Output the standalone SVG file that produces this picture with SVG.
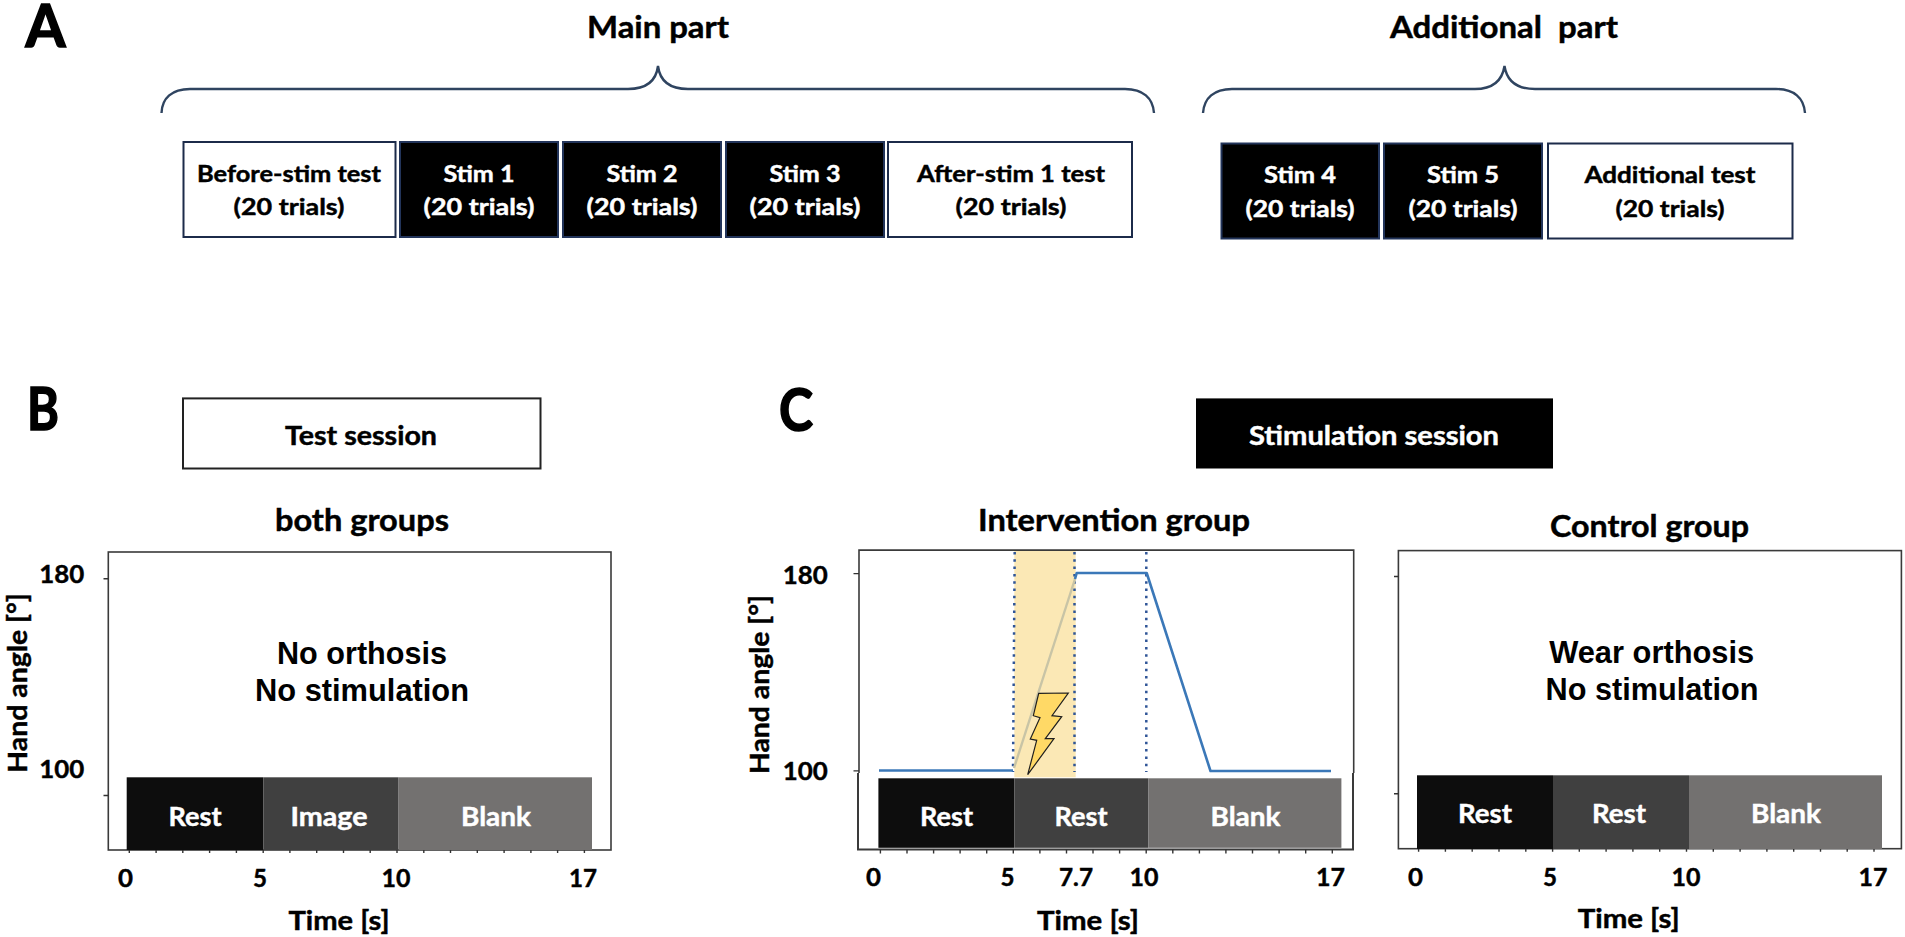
<svg xmlns="http://www.w3.org/2000/svg" width="1905" height="937" viewBox="0 0 1905 937">
<style>
text{font-family:Lato,"Open Sans","Liberation Sans",sans-serif;font-weight:700;fill:#000;stroke:#000;stroke-width:.45;text-anchor:middle}
.panel{font-size:60px;stroke-width:1.6}
.head{font-size:30px}
.box{font-size:23px}
.w{fill:#fff;stroke:#fff}
.sess{font-size:26.5px}
.bar{font-size:27px}
.num{font-size:25.5px}
.ax{font-size:27.5px}
.note{font-family:"Liberation Sans",Arial,sans-serif;font-size:30.5px;stroke:none}
.lt{fill:#fff;stroke:#1c2b4a;stroke-width:2}
.dk{fill:#000;stroke:#22345a;stroke-width:2}
.brace{fill:none;stroke:#2f4460;stroke-width:2.4}
.frame{fill:none;stroke:#3a3a3a;stroke-width:1.6}
.tick{fill:none;stroke:#333;stroke-width:1.4}
.b1{fill:#0d0d0d}.b2{fill:#404040}.b3{fill:#737170}
.dots{fill:none;stroke:#2f5597;stroke-width:2.5;stroke-dasharray:2.5 4.8}
.trace{fill:none;stroke:#3b78b8;stroke-width:2.6;stroke-linejoin:round}
</style>
<rect width="1905" height="937" fill="#fff"/>

<g id="connectors">
<path class="brace" d="M161.5 113C162 98 172 89 190 89H628C645 89 656 82 658 66C660 82 671 89 688 89H1125C1143 89 1153 98 1154 113"/>
<path class="brace" d="M1203 113C1204 98 1214 89 1232 89H1475C1492 89 1502 82 1504.500 66C1507 82 1518 89 1535 89H1776C1794 89 1804 98 1805 113"/>
</g>

<g id="panel-a">
<text class="panel" x="45.500" y="47" textLength="40" lengthAdjust="spacingAndGlyphs">A</text>
<text class="head" x="658" y="38" textLength="142" lengthAdjust="spacingAndGlyphs">Main part</text>
<text class="head" x="1504" y="38" textLength="228" lengthAdjust="spacingAndGlyphs" xml:space="preserve">Additional  part</text>
</g>

<g id="before-stim">
<rect class="lt" x="183.500" y="142" width="212" height="95"/>
<text class="box" x="289" y="182" textLength="184" lengthAdjust="spacingAndGlyphs">Before-stim test</text>
<text class="box" x="289" y="215" textLength="111" lengthAdjust="spacingAndGlyphs">(20 trials)</text>
</g>
<g id="stim-1">
<rect class="dk" x="400" y="142" width="158" height="95"/>
<text class="box w" x="479" y="182" textLength="71" lengthAdjust="spacingAndGlyphs">Stim 1</text>
<text class="box w" x="479" y="215" textLength="111" lengthAdjust="spacingAndGlyphs">(20 trials)</text>
</g>
<g id="stim-2">
<rect class="dk" x="563" y="142" width="158" height="95"/>
<text class="box w" x="642" y="182" textLength="71" lengthAdjust="spacingAndGlyphs">Stim 2</text>
<text class="box w" x="642" y="215" textLength="111" lengthAdjust="spacingAndGlyphs">(20 trials)</text>
</g>
<g id="stim-3">
<rect class="dk" x="726" y="142" width="158" height="95"/>
<text class="box w" x="805" y="182" textLength="71" lengthAdjust="spacingAndGlyphs">Stim 3</text>
<text class="box w" x="805" y="215" textLength="111" lengthAdjust="spacingAndGlyphs">(20 trials)</text>
</g>
<g id="after-stim">
<rect class="lt" x="888" y="142" width="244" height="95"/>
<text class="box" x="1011" y="182" textLength="188" lengthAdjust="spacingAndGlyphs">After-stim 1 test</text>
<text class="box" x="1011" y="215" textLength="111" lengthAdjust="spacingAndGlyphs">(20 trials)</text>
</g>
<g id="stim-4">
<rect class="dk" x="1221.500" y="143.500" width="157.500" height="95"/>
<text class="box w" x="1300" y="183" textLength="72" lengthAdjust="spacingAndGlyphs">Stim 4</text>
<text class="box w" x="1300" y="217" textLength="109" lengthAdjust="spacingAndGlyphs">(20 trials)</text>
</g>
<g id="stim-5">
<rect class="dk" x="1384" y="143.500" width="158" height="95"/>
<text class="box w" x="1463" y="183" textLength="72" lengthAdjust="spacingAndGlyphs">Stim 5</text>
<text class="box w" x="1463" y="217" textLength="109" lengthAdjust="spacingAndGlyphs">(20 trials)</text>
</g>
<g id="additional-test">
<rect class="lt" x="1548" y="143.500" width="244.500" height="95"/>
<text class="box" x="1670" y="183" textLength="171" lengthAdjust="spacingAndGlyphs">Additional test</text>
<text class="box" x="1670" y="217" textLength="109" lengthAdjust="spacingAndGlyphs">(20 trials)</text>
</g>

<g id="panel-b">
<text class="panel" x="43" y="430" textLength="32" lengthAdjust="spacingAndGlyphs">B</text>
</g>
<g id="test-session">
<rect class="lt" x="183" y="398.400" width="357.500" height="70.100" style="stroke:#222"/>
<text class="sess" x="361" y="444.700" textLength="152" lengthAdjust="spacingAndGlyphs">Test session</text>
</g>
<g id="plot-b">
<text class="head" x="362" y="531.200" textLength="174" lengthAdjust="spacingAndGlyphs">both groups</text>
<rect class="frame" x="108.300" y="552" width="502.700" height="298"/>
<path class="tick" d="M103.500 578.700H108.300M103.500 795.500H108.300M129.300 850v3M156.100 850v3M182.800 850v3M209.600 850v3M236.400 850v3M263.200 850v3M289.900 850v3M316.700 850v3M343.500 850v3M370.200 850v3M397 850v3M423.800 850v3M450.500 850v3M477.300 850v3M504.100 850v3M530.900 850v3M557.600 850v3M584.400 850v3"/>
<text class="num" x="61.700" y="582.700" textLength="45" lengthAdjust="spacingAndGlyphs">180</text>
<text class="num" x="61.700" y="778.300" textLength="45" lengthAdjust="spacingAndGlyphs">100</text>
<text class="ax" transform="translate(27 683) rotate(-90)" textLength="179.500" lengthAdjust="spacingAndGlyphs">Hand angle [°]</text>
<text class="note" x="362" y="663.500" textLength="170" lengthAdjust="spacingAndGlyphs">No orthosis</text>
<text class="note" x="362" y="701.300" textLength="214" lengthAdjust="spacingAndGlyphs">No stimulation</text>
<rect class="b1" x="126.700" y="777.300" width="136.600" height="72.700"/>
<rect class="b2" x="263.300" y="777.300" width="135.300" height="72.700"/>
<rect class="b3" x="398.600" y="777.300" width="193.400" height="72.700"/>
<text class="bar w" x="195" y="825.700" textLength="53" lengthAdjust="spacingAndGlyphs">Rest</text>
<text class="bar w" x="329" y="825.700" textLength="77" lengthAdjust="spacingAndGlyphs">Image</text>
<text class="bar w" x="496" y="825.700" textLength="70" lengthAdjust="spacingAndGlyphs">Blank</text>
<text class="num" x="125.500" y="886.700" textLength="15" lengthAdjust="spacingAndGlyphs">0</text>
<text class="num" x="260" y="886.700" textLength="14" lengthAdjust="spacingAndGlyphs">5</text>
<text class="num" x="396" y="886.700" textLength="29" lengthAdjust="spacingAndGlyphs">10</text>
<text class="num" x="583" y="886.700" textLength="28" lengthAdjust="spacingAndGlyphs">17</text>
<text class="ax" x="339" y="930" textLength="101" lengthAdjust="spacingAndGlyphs">Time [s]</text>
</g>

<g id="panel-c">
<text class="panel" x="796" y="431" textLength="34" lengthAdjust="spacingAndGlyphs">C</text>
</g>
<g id="stimulation-session">
<rect x="1196" y="398.400" width="357" height="70.100" fill="#000"/>
<text class="sess w" x="1374" y="444.700" textLength="250" lengthAdjust="spacingAndGlyphs">Stimulation session</text>
</g>
<g id="plot-intervention">
<text class="head" x="1114" y="531.200" textLength="272" lengthAdjust="spacingAndGlyphs">Intervention group</text>
<rect x="1014.300" y="550" width="61.400" height="227.300" fill="#fbe8b5"/>
<path class="frame" d="M859 773V550.100H1353.700V773"/>
<path class="frame" d="M858 773V849.600H1353V773" style="stroke-width:2"/>
<path class="tick" d="M853.500 573.600H859M853.500 770.900H859M880.400 849.600v4M907 849.600v4M933.600 849.600v4M960.100 849.600v4M986.700 849.600v4M1013.300 849.600v4M1039.900 849.600v4M1066.500 849.600v4M1093 849.600v4M1119.600 849.600v4M1146.200 849.600v4M1172.800 849.600v4M1199.400 849.600v4M1225.900 849.600v4M1252.500 849.600v4M1279.100 849.600v4M1305.700 849.600v4M1332.300 849.600v4"/>
<path class="dots" d="M1014.700 552L1013 772M1074.500 552V772M1146.300 552V772"/>
<path class="trace" d="M879 770.500H1013"/>
<path d="M1014 768L1075 579" fill="none" stroke="#c8c4a6" stroke-width="2.400"/>
<path class="trace" d="M1075 579L1076.700 573H1146.700L1210.500 771H1331"/>
<polygon id="bolt" points="1038.700,693.300 1068.300,693 1052,715.700 1061.700,716.700 1045.300,738.700 1054,738.700 1027.700,774.700 1036.700,740.300 1030.300,739 1040,717.700 1033.300,715.700" fill="#ffd966" stroke="#1f1f1f" stroke-width="1.200"/>
<text class="num" x="805.200" y="583.500" textLength="45" lengthAdjust="spacingAndGlyphs">180</text>
<text class="num" x="805.200" y="780" textLength="45" lengthAdjust="spacingAndGlyphs">100</text>
<text class="ax" transform="translate(769 684.600) rotate(-90)" textLength="179" lengthAdjust="spacingAndGlyphs">Hand angle [°]</text>
<rect class="b1" x="878.400" y="778.300" width="136" height="69.500"/>
<rect class="b2" x="1014.400" y="778.300" width="134.100" height="69.500"/>
<rect class="b3" x="1148.500" y="778.300" width="192.900" height="69.500"/>
<text class="bar w" x="946.500" y="825.700" textLength="53" lengthAdjust="spacingAndGlyphs">Rest</text>
<text class="bar w" x="1081" y="825.700" textLength="53" lengthAdjust="spacingAndGlyphs">Rest</text>
<text class="bar w" x="1245.500" y="825.700" textLength="70" lengthAdjust="spacingAndGlyphs">Blank</text>
<text class="num" x="873.500" y="885.700" textLength="15" lengthAdjust="spacingAndGlyphs">0</text>
<text class="num" x="1007.500" y="885.700" textLength="14" lengthAdjust="spacingAndGlyphs">5</text>
<text class="num" x="1076" y="885.700" textLength="34" lengthAdjust="spacingAndGlyphs">7.7</text>
<text class="num" x="1144" y="885.700" textLength="29" lengthAdjust="spacingAndGlyphs">10</text>
<text class="num" x="1330.500" y="885.700" textLength="29" lengthAdjust="spacingAndGlyphs">17</text>
<text class="ax" x="1088" y="930" textLength="102" lengthAdjust="spacingAndGlyphs">Time [s]</text>
</g>

<g id="plot-control">
<text class="head" x="1649.500" y="537.200" textLength="199" lengthAdjust="spacingAndGlyphs">Control group</text>
<rect class="frame" x="1398.400" y="550.600" width="503" height="298.100"/>
<path class="tick" d="M1394 576.500H1398.400M1394 793.800H1398.400M1418.600 848.700v3M1445.400 848.700v3M1472.200 848.700v3M1499 848.700v3M1525.800 848.700v3M1552.600 848.700v3M1579.300 848.700v3M1606.100 848.700v3M1632.900 848.700v3M1659.700 848.700v3M1686.500 848.700v3M1713.300 848.700v3M1740.100 848.700v3M1766.900 848.700v3M1793.700 848.700v3M1820.500 848.700v3M1847.200 848.700v3M1874 848.700v3"/>
<text class="note" x="1651.700" y="662.500" textLength="205" lengthAdjust="spacingAndGlyphs">Wear orthosis</text>
<text class="note" x="1652" y="699.700" textLength="213" lengthAdjust="spacingAndGlyphs">No stimulation</text>
<rect class="b1" x="1417" y="775.300" width="136" height="73.700"/>
<rect class="b2" x="1553" y="775.300" width="136" height="73.700"/>
<rect class="b3" x="1689" y="775.300" width="193" height="73.700"/>
<text class="bar w" x="1485" y="823.300" textLength="54" lengthAdjust="spacingAndGlyphs">Rest</text>
<text class="bar w" x="1619" y="823.300" textLength="54" lengthAdjust="spacingAndGlyphs">Rest</text>
<text class="bar w" x="1786" y="823.300" textLength="70" lengthAdjust="spacingAndGlyphs">Blank</text>
<text class="num" x="1415.500" y="885.700" textLength="15" lengthAdjust="spacingAndGlyphs">0</text>
<text class="num" x="1550" y="885.700" textLength="14" lengthAdjust="spacingAndGlyphs">5</text>
<text class="num" x="1686" y="885.700" textLength="29" lengthAdjust="spacingAndGlyphs">10</text>
<text class="num" x="1873" y="885.700" textLength="29" lengthAdjust="spacingAndGlyphs">17</text>
<text class="ax" x="1628.700" y="928.300" textLength="102" lengthAdjust="spacingAndGlyphs">Time [s]</text>
</g>
</svg>
